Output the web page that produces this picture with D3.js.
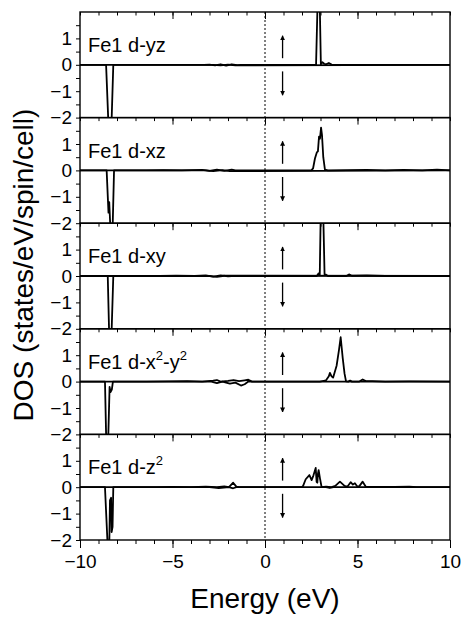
<!DOCTYPE html>
<html>
<head>
<meta charset="utf-8">
<script src="https://cdn.jsdelivr.net/npm/d3@7"></script>
<style>
  body { margin: 0; background: #fff; }
  svg { font-family: "Liberation Sans", Arial, sans-serif; }
</style>
</head>
<body>
<div class="bigvis"></div>
<script>
var width = 461
var height = 619
var plotLeft = 80, plotRight = 450, plotTop = 12, panelH = 105.6

// tick values
var energyMajor = [-10, -5, 0, 5, 10]
var energyMinor = d3.range(-10, 11, 1)
var dosTicks = [-2, -1.5, -1, -0.5, 0, 0.5, 1, 1.5]
var dosLabels = [-2, -1, 0, 1]

var panelLabels = ["Fe1 d-yz", "Fe1 d-xz", "Fe1 d-xy", "Fe1 d-x^2-y^2", "Fe1 d-z^2"]

// spin-up / spin-down DOS, [energy, dos]
var yzUp = [[-10,0],[-3.3,0],[-3.0,0.01],[-2.7,-0.02],[-2.4,0.02],[-2.1,-0.03],[-1.8,0.02],[-1.5,-0.01],[-1.3,0],
  [2.76,0],[2.84,2.3],[2.96,2.3],[3.02,0.02],[3.1,0.1],[3.2,0.04],[3.3,0.02],[3.45,0.07],[3.6,0.01],[5,0],[10,0]]
var yzDown = [[-10,0],[-8.59,0],[-8.46,-2.3],[-8.3,-2.3],[-8.2,0],[-2.8,0],[-2.4,-0.02],[-2.0,0.01],[-1.6,-0.02],[10,0]]

var xzUp = [[-10,0],[-6.4,0],[-5.5,0.01],[-4.5,0],[-3.4,0.02],[-3.0,-0.02],[-2.6,0.03],[-2.2,-0.02],[-1.8,0.03],[-1.6,0],
  [2.5,0],[2.6,0.08],[2.7,0.45],[2.8,0.68],[2.86,0.72],[2.92,1.28],[2.97,1.2],[3.03,1.62],[3.08,1.35],[3.15,0.5],[3.24,0.03],[3.4,0],
  [5.5,0.02],[6.5,0],[7.5,0.02],[8.5,0],[9.3,0.03],[10,0]]
var xzDown = [[-10,0],[-8.56,0],[-8.46,-1.6],[-8.42,-1.2],[-8.35,-2.3],[-8.24,-2.3],[-8.16,0],[-3.2,0],[-2.8,-0.03],[-2.3,0.01],[-1.9,-0.03],[10,0]]

var xyUp = [[-10,0],[-5.7,0],[-4.8,0.01],[-3.8,0],[-3.2,0.02],[-2.8,-0.02],[-2.4,0.02],[-2.0,-0.01],[-1.8,0],
  [2.8,0],[2.9,0.1],[2.96,0.05],[3.01,2.3],[3.15,2.3],[3.22,0.06],[3.3,0.05],[3.4,0],[4.4,0],[4.54,0.06],[4.7,0.01],[5.5,0.02],[6.5,0],[10,0]]
var xyDown = [[-10,0],[-8.5,0],[-8.42,-2.3],[-8.3,-2.3],[-8.2,0],[-3.0,0],[-2.6,-0.03],[-2.2,0.01],[10,0]]

var x2y2Up = [[-10,0],[-6.4,0],[-5.2,0.01],[-4.2,0.02],[-3.4,0],[-2.8,0.04],[-2.6,0.06],[-2.4,0],[-2.0,0.03],[-1.7,0.06],[-1.4,0.02],
  [-1.1,0.05],[-0.9,0.07],[-0.7,0],[2.97,0],[3.3,0.05],[3.45,0.2],[3.51,0.33],[3.6,0.2],[3.68,0.15],[3.87,0.6],[4.0,1.2],[4.09,1.68],
  [4.2,0.9],[4.3,0.3],[4.38,0.01],[4.5,0],[4.6,0.04],[4.7,0],[5.1,0],[5.28,0.08],[5.45,0.02],[5.8,0.02],[6.5,0],[7.8,0.01],[10,0]]
var x2y2Down = [[-10,0],[-8.65,0],[-8.58,-2.3],[-8.48,-2.3],[-8.4,-0.2],[-8.35,-0.4],[-8.28,-0.3],[-8.22,0],[-2.9,0],[-2.6,-0.06],
  [-2.3,0],[-1.9,-0.08],[-1.6,-0.04],[-1.3,-0.15],[-1.1,-0.1],[-0.9,0],[10,0]]

var z2Up = [[-10,0],[-5.9,0],[-5.0,0.01],[-4.0,0],[-3.2,0.02],[-2.6,0],[-2.2,0.03],[-1.95,0],[-1.72,0.17],[-1.55,0.02],[-1.4,0],
  [2.0,0],[2.06,0.05],[2.2,0.3],[2.4,0.46],[2.52,0.27],[2.62,0.45],[2.74,0.73],[2.79,0.2],[2.83,0.17],[2.86,0.5],[2.9,0.65],
  [2.98,0.3],[3.06,0],[3.3,0.02],[3.6,0],[3.8,0.05],[4.05,0.21],[4.3,0.05],[4.45,0.02],[4.63,0.19],[4.75,0.1],[4.86,0.15],
  [5.0,0.02],[5.1,0.04],[5.28,0.21],[5.45,0.02],[6.0,0.01],[7.0,0.01],[7.8,0.02],[8.2,0],[10,0]]
var z2Down = [[-10,0],[-8.65,0],[-8.5,-2.3],[-8.42,-2.3],[-8.38,-0.5],[-8.32,-0.4],[-8.29,-1.7],[-8.24,-1.5],[-8.2,0],
  [-3.0,0],[-2.5,-0.03],[-1.95,0],[-1.72,-0.04],[-1.55,0],[3.3,0],[3.5,-0.03],[3.7,0],[10,0]]

var arrowE = 0.95
var upArrow = [0.25, 1.1]
var downArrow = [-0.25, -1.15]

var panels = [
  {label: panelLabels[0], up: yzUp, down: yzDown},
  {label: panelLabels[1], up: xzUp, down: xzDown},
  {label: panelLabels[2], up: xyUp, down: xyDown},
  {label: panelLabels[3], up: x2y2Up, down: x2y2Down},
  {label: panelLabels[4], up: z2Up, down: z2Down}
]

var svg = d3.select(".bigvis").append("svg")
    .attr("width", width)
    .attr("height", height)

var defs = svg.append("defs")
defs.append("marker")
    .attr("id", "head")
    .attr("viewBox", "0 0 10 10")
    .attr("refX", 9).attr("refY", 5)
    .attr("markerWidth", 5).attr("markerHeight", 7)
    .attr("markerUnits", "userSpaceOnUse")
    .attr("orient", "auto")
  .append("path")
    .attr("d", "M0,0L10,5L0,10Z")
    .attr("fill", "#000")

var x = d3.scaleLinear().domain([-10, 10]).range([plotLeft, plotRight])

var line = d3.line()
    .x(function(d){ return x(d[0]) })

panels.forEach(function(p, i){
  var top = plotTop + i * panelH
  var y = d3.scaleLinear().domain([-2, 2]).range([panelH, 0])
  line.y(function(d){ return y(d[1]) })

  var g = svg.append("g").attr("transform", "translate(0," + top + ")")

  defs.append("clipPath").attr("id", "clip" + i)
    .append("rect")
      .attr("x", plotLeft).attr("y", 0)
      .attr("width", plotRight - plotLeft).attr("height", panelH)

  var curves = g.append("g").attr("clip-path", "url(#clip" + i + ")")
  ;[p.up, p.down].forEach(function(data){
    curves.append("path")
        .datum(data)
        .attr("d", line)
        .attr("fill", "none")
        .attr("stroke", "#000")
        .attr("stroke-width", 1.8)
        .attr("stroke-linejoin", "round")
  })

  // frame
  g.append("rect")
      .attr("x", plotLeft).attr("y", 0)
      .attr("width", plotRight - plotLeft).attr("height", panelH)
      .attr("fill", "none")
      .attr("stroke", "#000")
      .attr("stroke-width", 1.4)

  // inward ticks on the top edge
  g.append("g")
      .call(d3.axisBottom(x).tickValues(energyMinor).tickSize(3.5).tickFormat(""))
      .call(function(a){ a.select(".domain").remove() })
  g.append("g")
      .call(d3.axisBottom(x).tickValues([-5, 0, 5]).tickSize(7).tickFormat(""))
      .call(function(a){ a.select(".domain").remove() })

  var left = g.append("g")
      .attr("transform", "translate(" + plotLeft + ",0)")
      .call(d3.axisLeft(y).tickValues(dosTicks).tickSize(4).tickPadding(4)
        .tickFormat(function(d){ return dosLabels.indexOf(d) >= 0 ? d3.format("")(d) : "" }))
  left.select(".domain").remove()
  left.selectAll("text").attr("font-size", 19).attr("font-family", null)

  // label, "^2" becomes a superscript
  var parts = p.label.split("^2")
  var t = g.append("text")
      .attr("x", 88).attr("y", 40)
      .attr("font-size", 20)
  parts.forEach(function(s, k){
    if(k > 0){
      t.append("tspan").text("2").attr("font-size", 13).attr("dy", -9)
      if(s.length) t.append("tspan").text(s).attr("dy", 9)
    }else{
      t.append("tspan").text(s)
    }
  })

  // spin arrows
  g.append("line")
      .attr("x1", x(arrowE)).attr("x2", x(arrowE))
      .attr("y1", y(upArrow[0])).attr("y2", y(upArrow[1]))
      .attr("stroke", "#000").attr("stroke-width", 1.3)
      .attr("marker-end", "url(#head)")
  g.append("line")
      .attr("x1", x(arrowE)).attr("x2", x(arrowE))
      .attr("y1", y(downArrow[0])).attr("y2", y(downArrow[1]))
      .attr("stroke", "#000").attr("stroke-width", 1.3)
      .attr("marker-end", "url(#head)")

  if(i == panels.length - 1){
    var bx = g.append("g")
        .attr("transform", "translate(0," + panelH + ")")
        .call(d3.axisBottom(x).tickValues(energyMinor).tickSize(4).tickFormat(""))
    bx.select(".domain").remove()
    var bm = g.append("g")
        .attr("transform", "translate(0," + panelH + ")")
        .call(d3.axisBottom(x).tickValues(energyMajor).tickSize(8).tickPadding(7))
    bm.select(".domain").remove()
    bm.selectAll("text").attr("font-size", 19).attr("font-family", null)
  }
})

// Fermi level
svg.append("line")
    .attr("x1", x(0)).attr("x2", x(0))
    .attr("y1", plotTop).attr("y2", plotTop + 5 * panelH)
    .attr("stroke", "#000")
    .attr("stroke-width", 1)
    .attr("stroke-dasharray", "2,2")

svg.append("text")
    .attr("transform", "translate(33,265) rotate(-90)")
    .attr("text-anchor", "middle")
    .attr("font-size", 28)
    .text("DOS (states/eV/spin/cell)")

svg.append("text")
    .attr("x", 265).attr("y", 608)
    .attr("text-anchor", "middle")
    .attr("font-size", 28)
    .text("Energy (eV)")
</script>
</body>
</html>
